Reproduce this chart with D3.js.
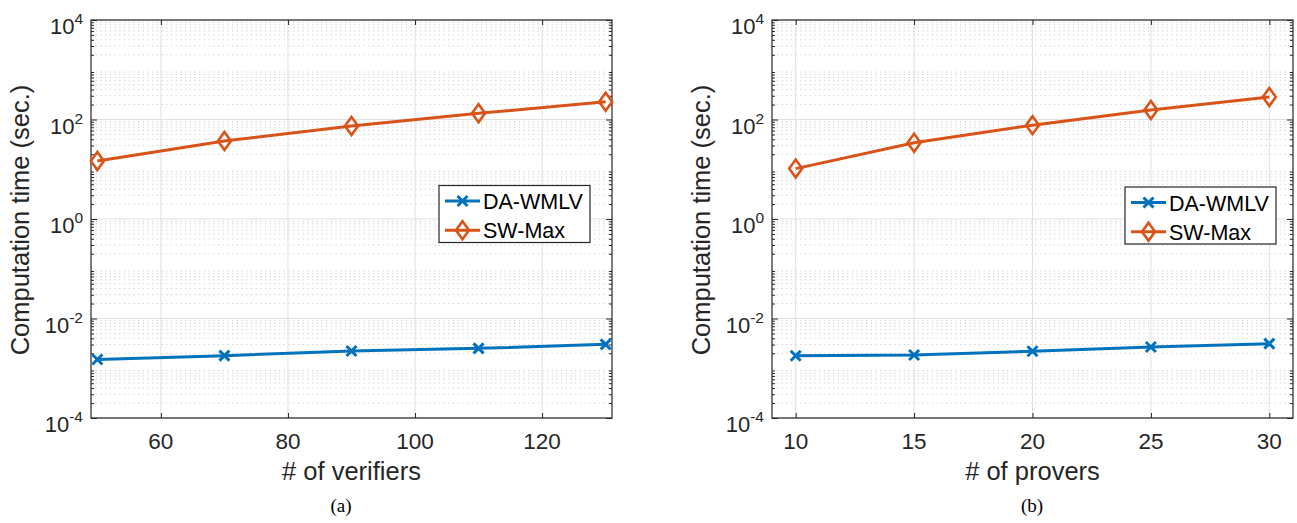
<!DOCTYPE html>
<html>
<head>
<meta charset="utf-8">
<script src="https://cdn.jsdelivr.net/npm/d3@7/dist/d3.min.js"></script>
<style>
  body { margin: 0; background: #fff; }
  svg { display: block; font-family: "Liberation Sans", Arial, sans-serif; }
  .caption { font-family: "Liberation Serif", "Times New Roman", serif; }
</style>
</head>
<body>
<svg id="chart" width="1297" height="523"></svg>
<script>
"use strict";

// x values for the two panels
const verifiers = [50, 70, 90, 110, 130];
const provers = [10, 15, 20, 25, 30];

// computation time (sec.)
const daWmlvByVerifiers = [0.0015, 0.00179, 0.00222, 0.00251, 0.00302];
const swMaxByVerifiers = [14.7, 37, 74, 133, 228];
const daWmlvByProvers = [0.00178, 0.00185, 0.0022, 0.00267, 0.00312];
const swMaxByProvers = [10.3, 34, 77, 155, 283];

const verifierTicks = [60, 80, 100, 120];
const proverTicks = [10, 15, 20, 25, 30];
const yExponents = [-4, -2, 0, 2, 4];
const seriesNames = ["DA-WMLV", "SW-Max"];
const seriesColors = ["#0072BD", "#D95319"];

const svg = d3.select("#chart");
const W = 521, H = 398;
const axisColor = "#262626";

const drawPanel = function(opts) {
  const g = svg.append("g").attr("transform", `translate(${opts.left},20)`);

  const x = d3.scaleLinear().domain(opts.xDomain).range([0, W]);
  const y = d3.scaleLog().domain([1e-4, 1e4]).range([H, 0]);

  // minor grid (dotted) at 2..9 x 10^k
  const minor = [];
  for (let k = -4; k < 4; k++) {
    for (let m = 2; m <= 9; m++) minor.push(m * Math.pow(10, k));
  }
  g.selectAll(".minor").data(minor).enter().append("line")
    .attr("x1", 0).attr("x2", W)
    .attr("y1", d => y(d)).attr("y2", d => y(d))
    .attr("stroke", "#cfcfcf").attr("stroke-width", 1)
    .attr("stroke-dasharray", "1.3,3.4");

  // major grid
  g.selectAll(".hgrid").data(yExponents).enter().append("line")
    .attr("x1", 0).attr("x2", W)
    .attr("y1", d => y(Math.pow(10, d))).attr("y2", d => y(Math.pow(10, d)))
    .attr("stroke", "#e0e0e0").attr("stroke-width", 1);
  g.selectAll(".vgrid").data(opts.xTicks).enter().append("line")
    .attr("x1", d => x(d)).attr("x2", d => x(d))
    .attr("y1", 0).attr("y2", H)
    .attr("stroke", "#e0e0e0").attr("stroke-width", 1);

  // axes (ticks inside, on all four sides)
  const xb = d3.axisBottom(x).tickValues(opts.xTicks).tickSizeInner(-5).tickSizeOuter(0).tickFormat("");
  const xt = d3.axisTop(x).tickValues(opts.xTicks).tickSizeInner(-5).tickSizeOuter(0).tickFormat("");
  const yl = d3.axisLeft(y).tickValues(minor).tickSizeInner(-3).tickSizeOuter(0).tickFormat("");
  const yr = d3.axisRight(y).tickValues(minor).tickSizeInner(-3).tickSizeOuter(0).tickFormat("");
  const ylM = d3.axisLeft(y).tickValues(yExponents.map(e => Math.pow(10, e))).tickSizeInner(-6).tickSizeOuter(0).tickFormat("");
  const yrM = d3.axisRight(y).tickValues(yExponents.map(e => Math.pow(10, e))).tickSizeInner(-6).tickSizeOuter(0).tickFormat("");

  const axes = [
    [xb, `translate(0,${H})`], [xt, "translate(0,0)"],
    [yl, "translate(0,0)"], [yr, `translate(${W},0)`],
    [ylM, "translate(0,0)"], [yrM, `translate(${W},0)`]
  ];
  axes.forEach(([ax, tr]) => {
    const a = g.append("g").attr("transform", tr).call(ax);
    a.selectAll("line").attr("stroke", axisColor).attr("stroke-width", 1);
    a.select(".domain").remove();
  });

  // box
  g.append("rect").attr("width", W).attr("height", H)
    .attr("fill", "none").attr("stroke", axisColor).attr("stroke-width", 1.2);

  // tick labels
  g.selectAll(".xlab").data(opts.xTicks).enter().append("text")
    .attr("x", d => x(d)).attr("y", H + 31)
    .attr("text-anchor", "middle").attr("font-size", 22.5).attr("fill", axisColor)
    .text(d => d);

  const ylab = g.selectAll(".ylab").data(yExponents).enter().append("text")
    .attr("x", -8).attr("y", d => y(Math.pow(10, d)) + 14)
    .attr("text-anchor", "end").attr("font-size", 22).attr("fill", axisColor);
  ylab.append("tspan").text("10");
  ylab.append("tspan").attr("font-size", 15.5).attr("dy", -10).text(d => d);

  // axis labels
  g.append("text")
    .attr("x", W / 2).attr("y", H + 62)
    .attr("text-anchor", "middle").attr("font-size", 25.5).attr("fill", axisColor)
    .text(opts.xLabel);
  g.append("text")
    .attr("transform", `translate(-62,${H / 2 + 1}) rotate(-90)`)
    .attr("text-anchor", "middle").attr("font-size", 25.5).attr("fill", axisColor)
    .text("Computation time (sec.)");

  // series
  const line = d3.line().x(d => x(d[0])).y(d => y(d[1]));
  opts.series.forEach((vals, i) => {
    const pts = opts.xs.map((v, j) => [v, vals[j]]);
    g.append("path").datum(pts)
      .attr("d", line)
      .attr("fill", "none").attr("stroke", seriesColors[i]).attr("stroke-width", 3);
    g.selectAll(".m" + i).data(pts).enter().append("path")
      .attr("transform", d => `translate(${x(d[0])},${y(d[1])})`)
      .attr("d", i === 0 ? crossPath : diamondPath)
      .attr("fill", "none").attr("stroke", seriesColors[i])
      .attr("stroke-width", i === 0 ? 3 : 2.6);
  });

  // legend
  const lg = g.append("g").attr("transform", `translate(${W - opts.legendRight - 151},${opts.legendTop})`);
  lg.append("rect").attr("width", 151).attr("height", 57)
    .attr("fill", "#fff").attr("stroke", axisColor).attr("stroke-width", 1.2);
  seriesNames.forEach((name, i) => {
    const cy = 15.5 + i * 29.3;
    lg.append("line").attr("x1", 6).attr("x2", 41).attr("y1", cy).attr("y2", cy)
      .attr("stroke", seriesColors[i]).attr("stroke-width", 3);
    lg.append("path").attr("transform", `translate(23.5,${cy})`)
      .attr("d", i === 0 ? crossPath : diamondPath)
      .attr("fill", "none").attr("stroke", seriesColors[i])
      .attr("stroke-width", i === 0 ? 3 : 2.6);
    lg.append("text").attr("x", 44).attr("y", cy + 8)
      .attr("font-size", 21.5).attr("fill", "#000").text(name);
  });

  // caption
  svg.append("text").attr("class", "caption")
    .attr("x", opts.captionX).attr("y", 512)
    .attr("text-anchor", "middle").attr("font-size", 19).attr("fill", "#000")
    .text(opts.caption);
};

// marker shapes
const crossPath = "M-5,-5L5,5M-5,5L5,-5";
const diamondPath = "M0,-9L6.5,0L0,9L-6.5,0Z";

drawPanel({
  left: 91, xDomain: [49, 131], xTicks: verifierTicks, xs: verifiers,
  series: [daWmlvByVerifiers, swMaxByVerifiers], xLabel: "# of verifiers",
  legendRight: 22, legendTop: 165.5, caption: "(a)", captionX: 341
});
drawPanel({
  left: 772, xDomain: [9, 31], xTicks: proverTicks, xs: provers,
  series: [daWmlvByProvers, swMaxByProvers], xLabel: "# of provers",
  legendRight: 17, legendTop: 167, caption: "(b)", captionX: 1032
});
</script>
</body>
</html>
